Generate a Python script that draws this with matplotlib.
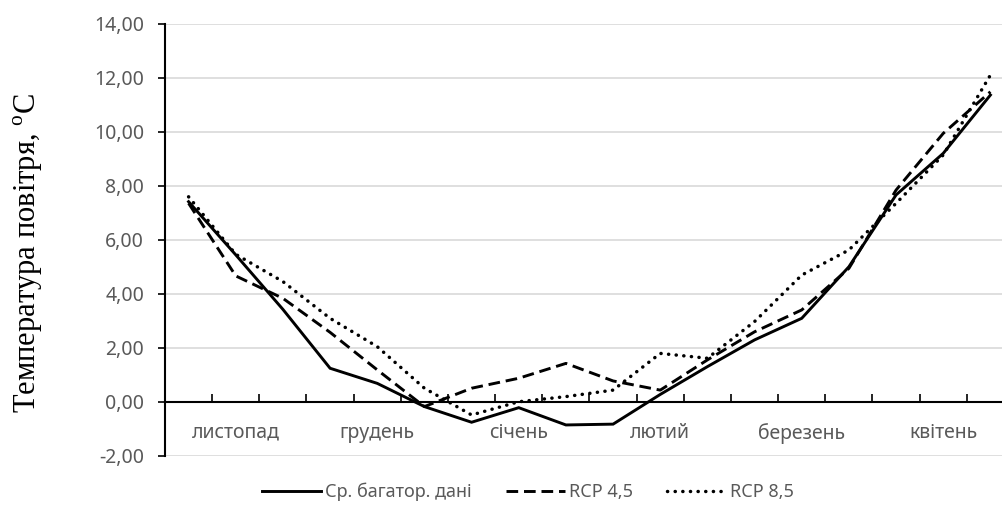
import matplotlib
matplotlib.use('Agg')
import matplotlib.pyplot as plt
import numpy as np

# ---- data ----
months = ['листопад', 'грудень', 'січень', 'лютий', 'березень', 'квітень']
points_per_month = 3
hist = [7.42, 5.45, 3.43, 1.25, 0.69, -0.17, -0.75, -0.21, -0.85,
        -0.82, 0.28, 1.31, 2.30, 3.10, 5.01, 7.67, 9.21, 11.37]
rcp45 = [7.36, 4.67, 3.84, 2.58, 1.19, -0.17, 0.51, 0.88, 1.43,
         0.78, 0.44, 1.56, 2.60, 3.41, 4.95, 7.85, 9.95, 11.49]
rcp85 = [7.60, 5.47, 4.46, 3.10, 2.05, 0.51, -0.48, 0.01, 0.20,
         0.44, 1.80, 1.62, 2.98, 4.70, 5.63, 7.36, 9.15, 12.11]
series_names = ['Ср. багатор. дані', 'RCP 4,5', 'RCP 8,5']
yticks = [-2, 0, 2, 4, 6, 8, 10, 12, 14]
ylabel = 'Температура повітря, $^{\\mathrm{o}}$C'

plt.rcParams['font.family'] = ['Noto Sans', 'DejaVu Sans']
plt.rcParams['mathtext.fontset'] = 'custom'
plt.rcParams['mathtext.rm'] = 'Liberation Serif'

W, H = 1003, 518
fig = plt.figure(figsize=(W / 100, H / 100), dpi=100)
left, right, top, bottom = 165, 1014, 24, 456
ax = fig.add_axes([left / W, 1 - bottom / H, (right - left) / W, (bottom - top) / H])

n = len(hist)
x = np.arange(n)
grey = '#595959'
lw = 2.1
ax.plot(x, hist, color='black', lw=lw, solid_joinstyle='miter', label=series_names[0])
ax.plot(x, rcp45, color='black', lw=lw, linestyle=(0, (4.0, 2.0)), label=series_names[1])
ax.plot(x, rcp85, color='black', lw=2.5, linestyle=(0, (0.05, 2.15)),
        dash_capstyle='round', label=series_names[2])

ax.set_xlim(-0.5, n - 0.5)
ax.set_ylim(-2, 14)

# y axis
ax.set_yticks(yticks)
ax.set_yticklabels([f'{v:.2f}'.replace('.', ',') for v in yticks])
ax.tick_params(axis='y', direction='out', length=5, width=1.2, colors='black',
               labelcolor=grey, labelsize=14, pad=10)
ax.yaxis.grid(True, color='#d9d9d9', lw=1.2)
ax.set_axisbelow(True)

# x axis at zero
ax.spines['bottom'].set_position(('data', 0))
ax.spines['bottom'].set_linewidth(1.5)
ax.spines['left'].set_linewidth(1.5)
ax.spines['top'].set_visible(False)
ax.spines['right'].set_visible(False)
ax.set_xticks(np.arange(0.5, n - 0.5, 1))
ax.set_xticklabels([])
ax.tick_params(axis='x', which='major', direction='in', length=6, width=1.2)
centers = [i * points_per_month + (points_per_month - 1) / 2 for i in range(len(months))]
ax.set_xticks(centers, minor=True)
ax.set_xticklabels(months, minor=True)
ax.tick_params(axis='x', which='minor', length=0, labelcolor=grey, labelsize=14, pad=15)

fig.text(28 / W, 1 - 253 / H, ylabel, rotation=90, ha='center', va='center',
         fontsize=22, family='Liberation Serif', color='black')

fig.legend(loc='center', bbox_to_anchor=(528 / W, 26 / H), ncol=3, frameon=False,
           fontsize=13, labelcolor=grey, handlelength=3.3, handletextpad=0.2,
           columnspacing=1.9)

fig.savefig('out.png', dpi=100)
